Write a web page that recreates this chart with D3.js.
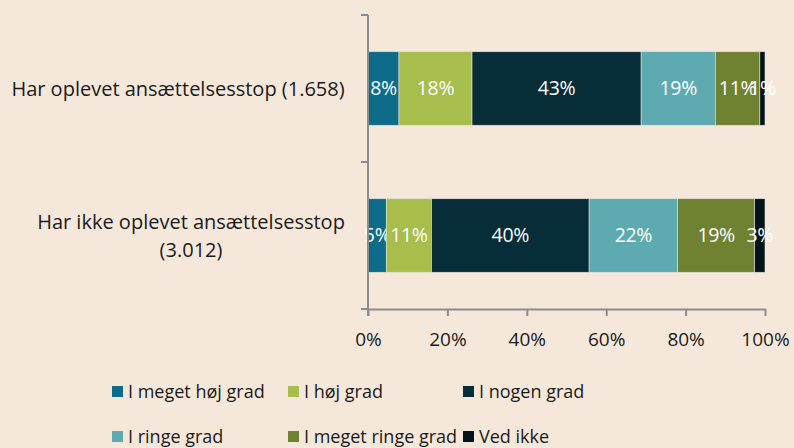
<!DOCTYPE html>
<html>
<head>
<meta charset="utf-8">
<script src="https://cdn.jsdelivr.net/npm/d3@7"></script>
<style>
  body { margin: 0; background: #f5e8da; }
  svg { display: block; font-family: "Open Sans", sans-serif; }
</style>
</head>
<body>
<div id="chart"></div>
<script>
let svgWidth = 794;
let svgHeight = 448;

// data
let categories = ["Har oplevet ansættelsesstop (1.658)", "Har ikke oplevet ansættelsesstop (3.012)"];
let categoryLines = [["Har oplevet ansættelsesstop (1.658)"], ["Har ikke oplevet ansættelsesstop", "(3.012)"]];
let seriesNames = ["I meget høj grad", "I høj grad", "I nogen grad", "I ringe grad", "I meget ringe grad", "Ved ikke"];
let row1 = [7.8, 18.4, 42.6, 18.7, 11.2, 1.3];
let row2 = [4.6, 11.4, 39.7, 22.3, 19.4, 2.6];
let xTicks = [0, 20, 40, 60, 80, 100];

let colors = ["#0c6c89", "#a7bd4c", "#062d38", "#5daab0", "#6e8232", "#03131a"];

let margin = { top: 15, right: 29, bottom: 139, left: 368 };
let width = svgWidth - margin.left - margin.right;
let height = svgHeight - margin.top - margin.bottom;

let svg = d3.select("#chart")
  .append("svg")
  .attr("width", svgWidth)
  .attr("height", svgHeight);

let chartGroup = svg.append("g")
  .attr("transform", `translate(${margin.left}, ${margin.top})`);

let rows = [row1, row2].map((vals, i) => {
  let obj = { cat: categories[i] };
  seriesNames.forEach((s, j) => obj[s] = vals[j]);
  return obj;
});

let stacked = d3.stack().keys(seriesNames)(rows);

let xScale = d3.scaleLinear().domain([0, 100]).range([0, width]);
let yScale = d3.scaleBand().domain(categories).range([0, height]).paddingInner(0.5).paddingOuter(0.25);

// bars
let layers = chartGroup.selectAll("g.layer")
  .data(stacked)
  .enter()
  .append("g")
  .attr("fill", (d, i) => colors[i]);

layers.selectAll("rect")
  .data(d => d)
  .enter()
  .append("rect")
  .attr("x", d => xScale(d[0]))
  .attr("y", d => yScale(d.data.cat))
  .attr("width", d => xScale(d[1]) - xScale(d[0]))
  .attr("height", yScale.bandwidth())
  .attr("stroke", "#e6e0d8")
  .attr("stroke-width", 0.6);

// bar labels
layers.selectAll("text")
  .data(d => d)
  .enter()
  .append("text")
  .attr("x", d => (xScale(d[0]) + xScale(d[1])) / 2)
  .attr("y", d => yScale(d.data.cat) + yScale.bandwidth() / 2)
  .attr("dy", "0.35em")
  .attr("text-anchor", "middle")
  .attr("fill", "#ffffff")
  .style("font-size", "19.5px")
  .style("letter-spacing", "-0.3px")
  .text(d => Math.round(d[1] - d[0]) + "%");

// x axis
let xAxis = chartGroup.append("g")
  .attr("transform", `translate(0, ${height})`)
  .call(d3.axisBottom(xScale).tickValues(xTicks).tickFormat(d => d + "%").tickSize(7).tickSizeOuter(0));

// y axis with ticks at category boundaries
let yBounds = [0, height / 2, height];
let yAxis = chartGroup.append("g");
yAxis.append("line")
  .attr("x1", 0).attr("x2", 0)
  .attr("y1", 0).attr("y2", height + 7);
yAxis.selectAll("line.tk")
  .data(yBounds)
  .enter()
  .append("line")
  .attr("class", "tk")
  .attr("x1", -7).attr("x2", 0)
  .attr("y1", d => d).attr("y2", d => d);

chartGroup.selectAll(".domain, .tick line, line")
  .attr("stroke", "#8c8c8c")
  .attr("stroke-width", 2);
// keep bar outlines thin
chartGroup.selectAll("rect").attr("stroke-width", 0.6);

xAxis.selectAll("text")
  .attr("fill", "#1a1a1a")
  .attr("y", 24)
  .style("font-size", "19px")
  .style("font-family", "'Open Sans', sans-serif");

// category labels
let catLabels = chartGroup.selectAll("text.cat")
  .data(categories)
  .enter()
  .append("text")
  .attr("class", "cat")
  .attr("text-anchor", "middle")
  .attr("fill", "#1a1a1a")
  .style("font-size", "20px");

catLabels.each(function(d, i) {
  let lines = categoryLines[i];
  let yc = yScale(d) + yScale.bandwidth() / 2;
  let x = lines.length > 1 ? -177 : -190;
  let el = d3.select(this);
  lines.forEach((ln, k) => {
    el.append("tspan")
      .attr("x", x)
      .attr("y", yc + (k - (lines.length - 1) / 2) * 28)
      .attr("dy", "0.35em")
      .text(ln);
  });
});

// legend
let legendPos = [[112, 392], [288, 392], [463, 392], [112, 437], [288, 437], [463, 437]];
let legend = svg.selectAll("g.legend")
  .data(seriesNames)
  .enter()
  .append("g")
  .attr("transform", (d, i) => `translate(${legendPos[i][0]}, ${legendPos[i][1]})`);

legend.append("rect")
  .attr("x", 0)
  .attr("y", -6)
  .attr("width", 11)
  .attr("height", 11)
  .attr("fill", (d, i) => colors[i]);

legend.append("text")
  .attr("x", 16)
  .attr("y", 0)
  .attr("dy", "0.35em")
  .attr("fill", "#1a1a1a")
  .style("font-size", "18px")
  .text(d => d);
</script>
</body>
</html>
